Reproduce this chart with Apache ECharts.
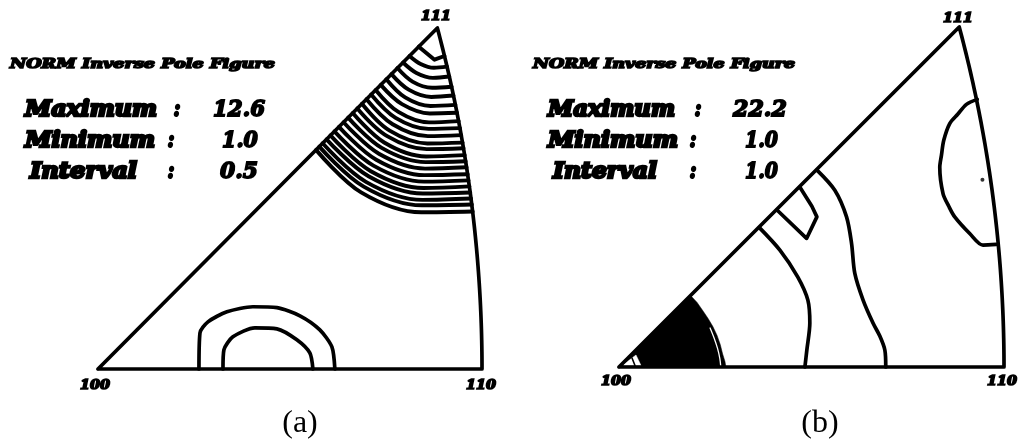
<!DOCTYPE html>
<html>
<head>
<meta charset="utf-8">
<script src="https://cdn.jsdelivr.net/npm/echarts@6/dist/echarts.min.js"></script>
<style>
  html, body { margin: 0; padding: 0; background: #fff; }
  #chart { width: 1022px; height: 447px; }
</style>
</head>
<body>
<div id="chart"></div>
<script>
// ---- text ----
const heading = 'NORM Inverse Pole Figure';
const poleLabels = ['100', '110', '111'];
const panelCaptions = ['(a)', '(b)'];
const statNames = ['Maximum', 'Minimum', 'Interval'];
const statsA = ['12.6', '1.0', '0.5'];
const statsB = ['22.2', '1.0', '1.0'];

// ---- contour lines, stereographic coordinates x1000 (100 at origin) ----
// (a) iso-density arcs around the 111 pole, outermost last
const arcsA111 = [
  [[346, 346], [363, 332], [373.7, 336]],
  [[336, 336], [348, 327.4], [362.3, 323.3], [376.5, 324.5]],
  [[329, 329], [343.5, 317.8], [361.3, 312.5], [378.9, 314]],
  [[323, 323], [339.2, 308.5], [360.4, 301.8], [381.4, 303]],
  [[316.5, 316.5], [335.1, 299.8], [359.5, 292], [383.4, 293.5]],
  [[311, 311], [331.3, 291.5], [358.7, 282.3], [385.5, 283.5]],
  [[305, 305], [327.9, 284.3], [358, 274.3], [387.2, 275]],
  [[299.5, 299.5], [324, 275.9], [357.1, 264.7], [389, 266]],
  [[294.6, 294.6], [321, 269.6], [356.5, 257.7], [390.4, 258.5]],
  [[289.6, 289.6], [317.8, 262.7], [355.8, 249.9], [391.8, 251]],
  [[284.7, 284.7], [314.6, 255.8], [355.2, 242.1], [393.2, 243]],
  [[279.7, 279.7], [311.9, 250], [354.6, 236], [394.2, 237]],
  [[274.8, 274.8], [308.7, 243.1], [353.9, 228.1], [395.5, 229.5]],
  [[269.8, 269.8], [306, 237.3], [353.4, 222], [396.5, 223]],
  [[264.9, 264.9], [303, 231], [352.8, 215.1], [397.5, 216.5]],
  [[259.9, 259.9], [300.1, 224.6], [352.2, 208.1], [398.7, 209]],
  [[255, 255], [297.1, 218.3], [351.6, 201.1], [399.6, 202.5]],
  [[250.7, 250.7], [294.3, 212.3], [351, 194.3], [400.6, 196]],
  [[246.5, 246.5], [291.8, 206.9], [350.4, 188.3], [401.5, 189.5]],
  [[242.3, 242.3], [289, 200.9], [349.9, 181.5], [402.3, 183]],
  [[238.7, 238.7], [286.6, 195.8], [349.3, 175.7], [403.2, 176.5]],
  [[235.2, 235.2], [283.8, 189.6], [348.7, 168.2], [404.1, 169]]
];
// (a) two closed loops resting on the 100-110 edge
const loopOuterA = [[108.9, 0], [110, 38.8], [118.6, 50.6], [139.1, 61.4], [167.1, 66.8],
  [193, 65.8], [217.8, 57.1], [239.3, 42], [252.3, 23.7], [255.5, 0]];
const loopInnerA = [[134.8, 0], [135.8, 20.5], [145.5, 34.5], [169.2, 44.2], [193, 43.1],
  [214.5, 31.3], [228.5, 17.2], [231.8, 0]];

// (b) contours
const loopRightB = [[385.4, 288.1], [373.8, 282.7], [364.4, 272], [355.8, 262], [349.4, 244],
  [346.9, 227.9], [345.1, 215], [348.6, 186.7], [354.8, 173], [361.2, 161.6], [377.3, 143.7],
  [391.6, 131.2], [406, 131.9]];
const notchB = [[195, 193], [207.5, 173], [212.9, 161.6], [201.8, 138.4], [170, 169]];
const lineMidB = [[151, 150], [173.1, 125.8], [192.4, 96.8], [203.2, 72], [205.3, 47.3],
  [202.1, 18.3], [200, 0]];
const lineOuterB = [[213, 212], [232.2, 190.3], [244.8, 161.6], [250.2, 133], [253.7, 100.7],
  [262.6, 72], [273.4, 47], [280.6, 33.3], [286, 18.3], [287, 0]];
// packed contours around 100, drawn as a solid region
const coreB = [[0, 0], [77, 77], [84, 69.5], [90.6, 60], [96, 52], [101, 43.5], [105.5, 34],
  [109, 24], [111.5, 14], [114, 6], [115, 0]];
const coreGapB = [[98, 42], [102, 32], [106, 20], [108.5, 9], [109.5, 0]];
const vertexPatchB = [[3.2, 1.6], [18.3, 12.9], [23.7, 1.6]];
const vertexTickB = [[14, 9.7], [17.2, 1.6]];
const peakDotB = [[391, 201.6]];

// ---- standard triangle outline: 100-110 edge, great circle 110-111, 111-100 edge ----
const P110 = [414.2, 0], P111 = [366.0, 366.0];
function triangleOutline() {
  const R = Math.SQRT2 * 1000, cx = -1000;
  const tEnd = Math.atan2(P111[1], P111[0] - cx);
  const pts = [[0, 0], P110];
  for (let i = 1; i <= 60; i++) {
    const t = tEnd * i / 60;
    pts.push([cx + R * Math.cos(t), R * Math.sin(t)]);
  }
  pts.push([0, 0]);
  return pts;
}
const outline = triangleOutline();

const INK = '#000';
const STROKE = 3.7;

function lineSeries(gi, data, opts) {
  opts = opts || {};
  return {
    type: 'line', xAxisIndex: gi, yAxisIndex: gi, data: data,
    smooth: opts.smooth === undefined ? 0.35 : opts.smooth,
    showSymbol: false, symbol: 'none', clip: false, silent: true, animation: false,
    z: opts.z || 3,
    lineStyle: { color: opts.color || INK, width: opts.width || STROKE, cap: 'round', join: 'round' }
  };
}
function polygonSeries(gi, pts, color, z) {
  return {
    type: 'custom', xAxisIndex: gi, yAxisIndex: gi, data: [0], clip: false, silent: true,
    animation: false, z: z,
    renderItem: function (params, api) {
      return { type: 'polygon', shape: { points: pts.map(p => api.coord(p)) },
               style: { fill: color, stroke: color, lineWidth: 0.5 } };
    }
  };
}

const series = [];
// panel (a)
arcsA111.forEach((arc, i) => series.push(lineSeries(0, arc, { smooth: i === 0 ? false : 0.35, width: 3.9 })));
series.push(lineSeries(0, loopOuterA, { smooth: 0.25 }));
series.push(lineSeries(0, loopInnerA, { smooth: 0.25 }));
series.push(lineSeries(0, outline, { smooth: false, z: 5 }));
// panel (b)
series.push(polygonSeries(1, coreB, INK, 2));
series.push(lineSeries(1, coreGapB, { color: '#fff', width: 1.3, z: 4 }));
series.push(polygonSeries(1, vertexPatchB, '#fff', 4));
series.push(lineSeries(1, vertexTickB, { smooth: false, width: 1.6, z: 4 }));
series.push(lineSeries(1, loopRightB, { smooth: 0.3 }));
series.push(lineSeries(1, notchB, { smooth: false }));
series.push(lineSeries(1, lineMidB, { smooth: 0.3 }));
series.push(lineSeries(1, lineOuterB, { smooth: 0.3 }));
series.push({
  type: 'scatter', xAxisIndex: 1, yAxisIndex: 1, data: peakDotB, symbolSize: 4,
  itemStyle: { color: INK }, silent: true, animation: false, z: 4
});
series.push(lineSeries(1, outline, { smooth: false, z: 5 }));

// ---- text helpers ----
const measureCtx = document.createElement('canvas').getContext('2d');
const LABEL_FONT = '"DejaVu Serif", "Liberation Serif", serif';
function stretchedText(str, x, y, size, width, align, stroke) {
  const font = 'italic bold ' + size + 'px ' + LABEL_FONT;
  measureCtx.font = font;
  const w = measureCtx.measureText(str).width || 1;
  return {
    type: 'text', x: x, y: y, scaleX: width / w, silent: true, z: 10,
    style: { text: str, font: font, fill: INK, stroke: INK, lineWidth: stroke,
             lineJoin: 'round', align: align || 'left', verticalAlign: 'middle' }
  };
}

// per-panel text layout
const panels = [
  { stats: statsA, head: [10, 65, 265], nameX: [25, 25, 30], nameW: [132, 130, 107],
    colonX: [177, 171, 171], valX: [213, 222, 220], valW: [52, 36, 38], rowY: [110, 141, 172],
    poles: [[95, 386], [481, 386], [436, 17]], caption: [300, 424] },
  { stats: statsB, head: [533, 65, 262], nameX: [548, 548, 553], nameW: [127, 130, 104],
    colonX: [698, 693, 693], valX: [733, 745, 745], valW: [54, 33, 33], rowY: [110, 141, 172],
    poles: [[616, 382], [1002, 382], [958, 19]], caption: [820, 424] }
];

const graphic = [];
panels.forEach((p, pi) => {
  graphic.push(stretchedText(heading, p.head[0], p.head[1], 12, p.head[2], 'left', 1.5));
  statNames.forEach((name, r) => {
    graphic.push(stretchedText(name, p.nameX[r], p.rowY[r], 23, p.nameW[r], 'left', 2.6));
    graphic.push(stretchedText(':', p.colonX[r], p.rowY[r], 23, 7, 'center', 2.2));
    graphic.push(stretchedText(p.stats[r], p.valX[r], p.rowY[r], 23, p.valW[r], 'left', 1.8));
  });
  poleLabels.forEach((lab, k) => {
    graphic.push(stretchedText(lab, p.poles[k][0], p.poles[k][1], 13, 30, 'center', 1.6));
  });
  graphic.push({
    type: 'text', x: p.caption[0], y: p.caption[1], silent: true, z: 10,
    style: { text: panelCaptions[pi], font: '32px "Liberation Serif", "Times New Roman", serif',
             fill: INK, align: 'center', verticalAlign: 'middle' }
  });
});

const hiddenAxis = (gi, max) => ({
  type: 'value', gridIndex: gi, min: 0, max: max, show: false
});

const chart = echarts.init(document.getElementById('chart'), null, { renderer: 'canvas' });
chart.setOption({
  backgroundColor: '#fff',
  animation: false,
  grid: [
    { left: 98, top: 28, width: 384, height: 341 },
    { left: 619, top: 27, width: 385, height: 340 }
  ],
  xAxis: [hiddenAxis(0, P110[0]), hiddenAxis(1, P110[0])],
  yAxis: [hiddenAxis(0, P111[1]), hiddenAxis(1, P111[1])],
  series: series,
  graphic: graphic
});
</script>
</body>
</html>
